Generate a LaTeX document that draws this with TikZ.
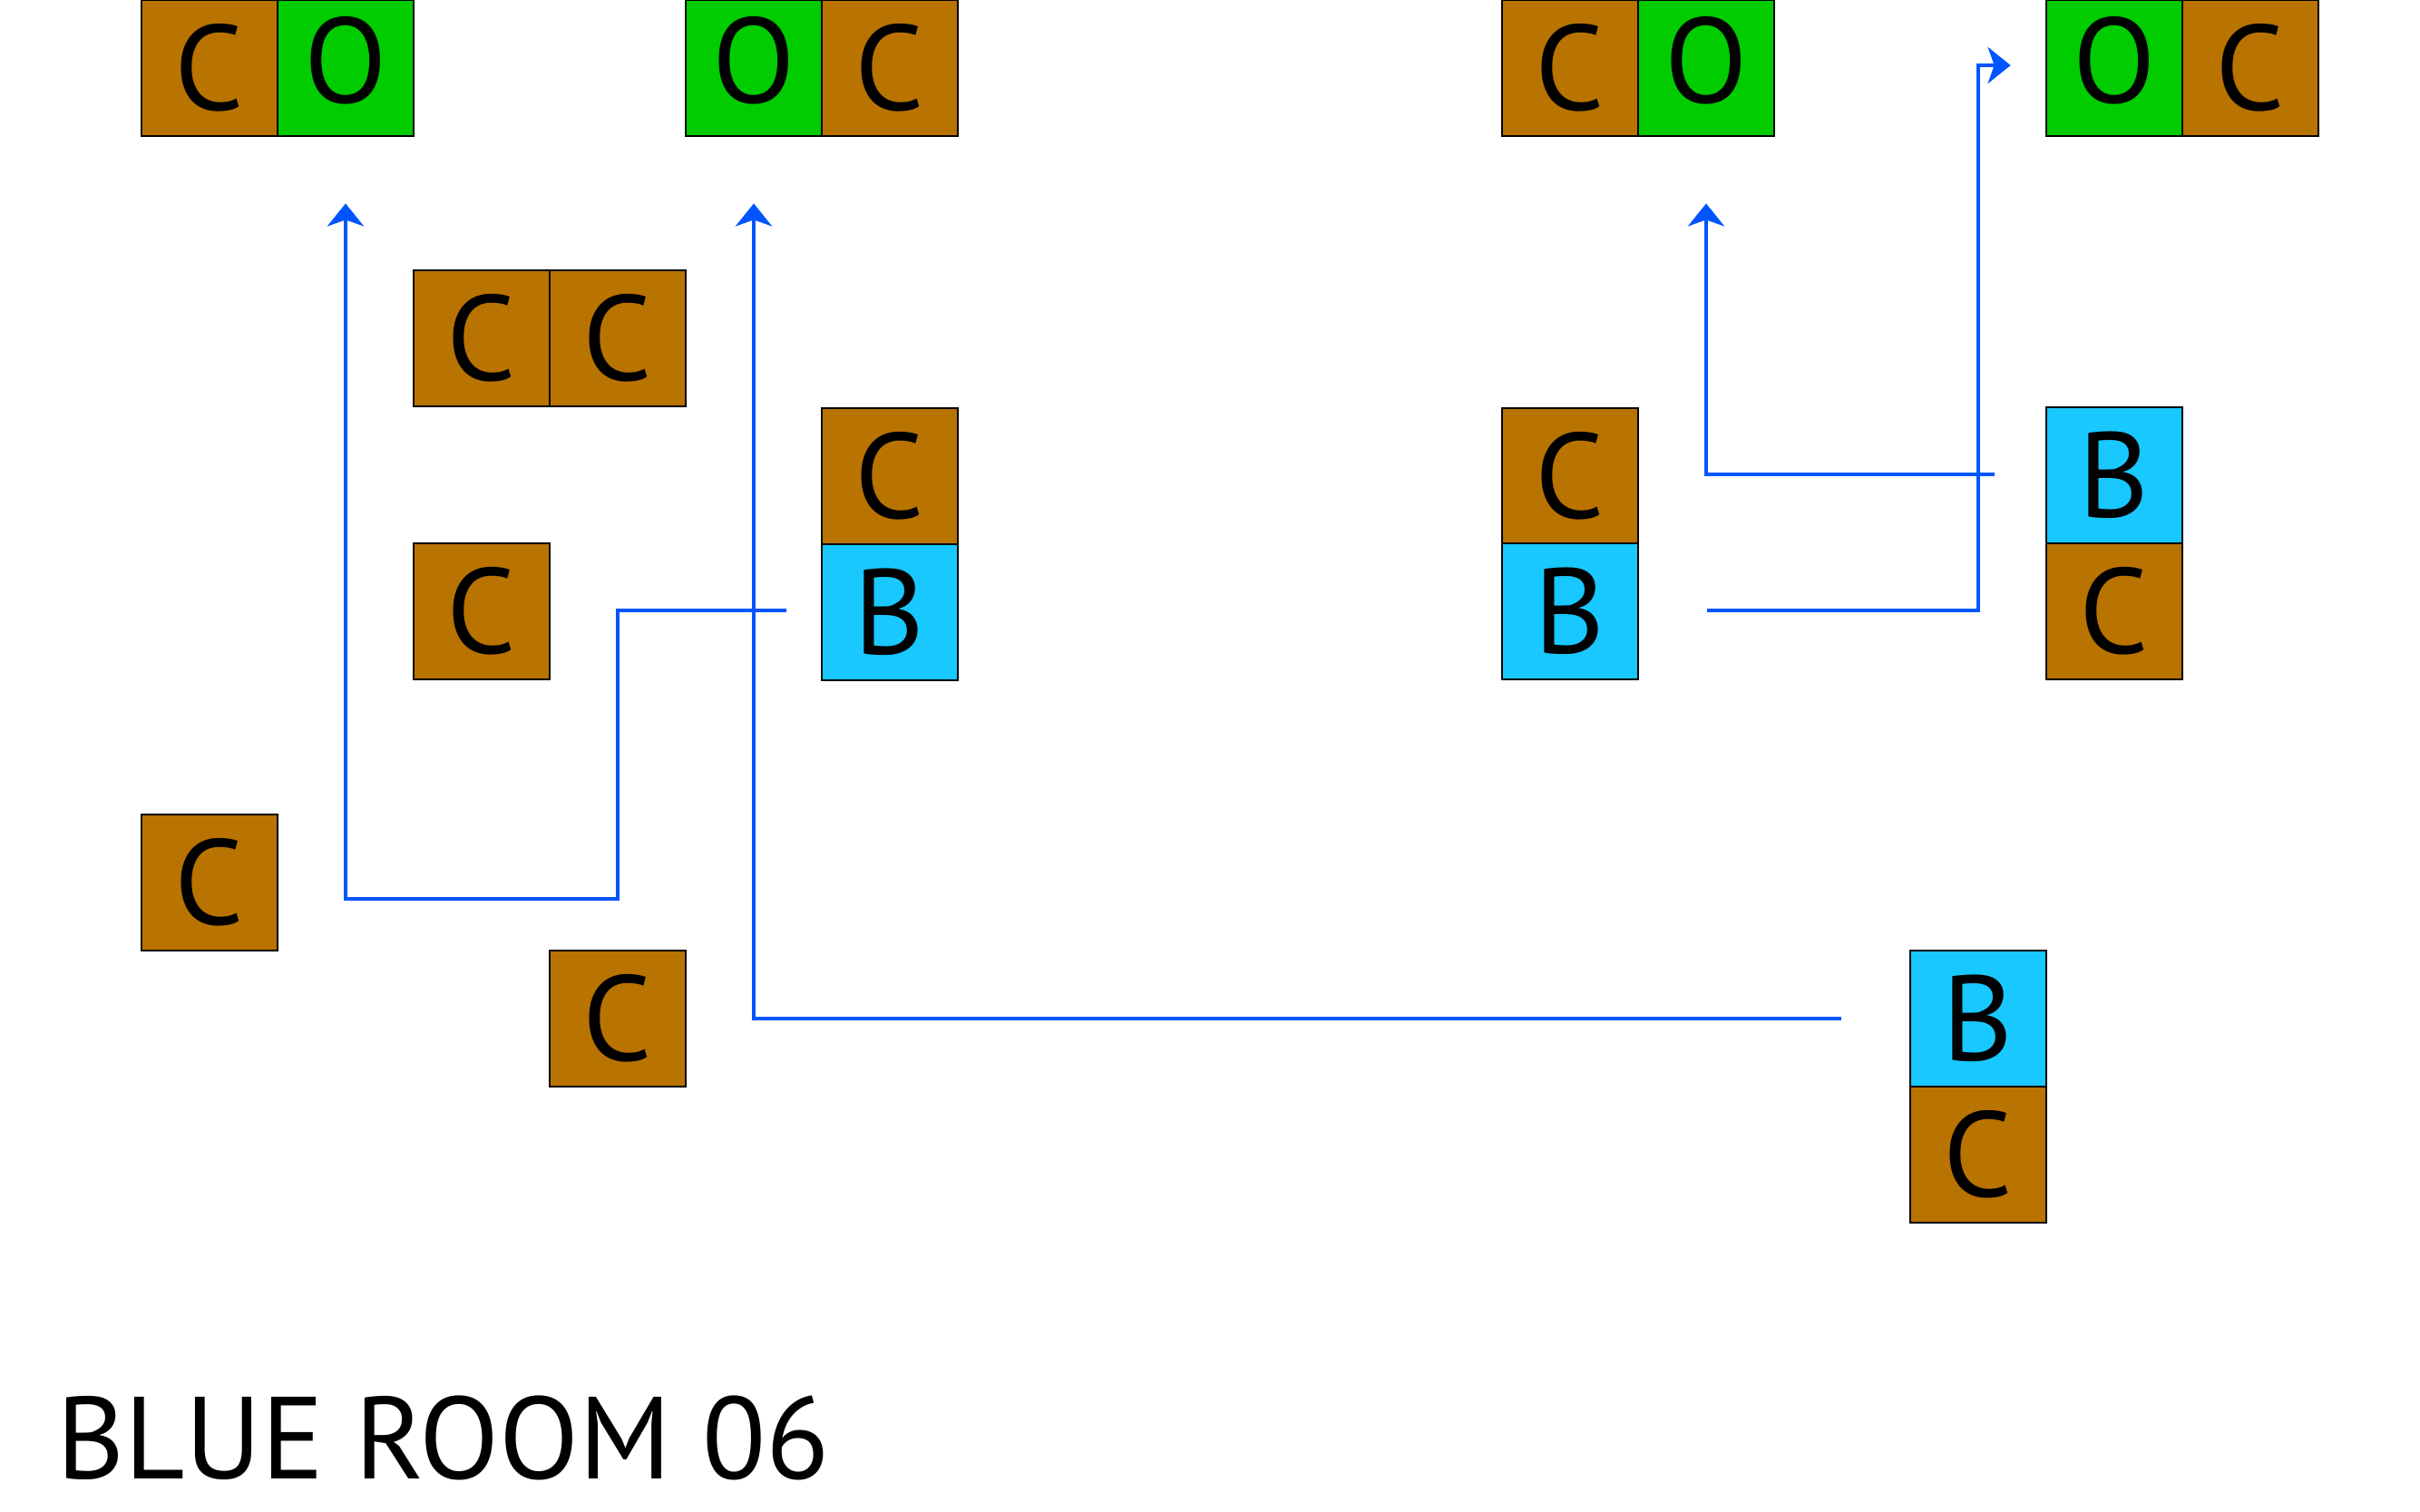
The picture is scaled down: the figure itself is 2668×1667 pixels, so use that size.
\documentclass[tikz,border=0pt]{standalone}
\usepackage{fontspec}
\setmainfont{PT Sans}
\usetikzlibrary{arrows.meta,calc}
\definecolor{cbrown}{RGB}{185,115,0}
\definecolor{cgreen}{RGB}{0,204,0}
\definecolor{ccyan}{RGB}{24,200,255}
\definecolor{lblue}{RGB}{0,85,255}
\tikzset{
  cell/.style={draw=black,line width=0.75pt,minimum size=1.5cm,inner sep=0pt,
    font=\fontsize{38}{40}\selectfont},
  cbox/.style={cell,fill=cbrown},
  obox/.style={cell,fill=cgreen},
  bbox/.style={cell,fill=ccyan},
  conn/.style={draw=lblue,line width=1.3pt,
    -{Stealth[length=0.25cm,width=0.40cm,inset=0.07cm]}}
}
\newcommand{\Ol}{\raisebox{0.18cm}{O}\hspace{0.14cm}}
\begin{document}
\begin{tikzpicture}[x=0.01cm,y=-0.01cm]
\useasboundingbox (0,0) rectangle (2668,1667);
% top row
\node[cbox] (t1c) at (231,75) {C};
\node[obox] (t1o) at (381,75) {\Ol};
\node[obox] (t2o) at (831,75) {\Ol};
\node[cbox] (t2c) at (981,75) {C};
\node[cbox] (t3c) at (1731,75) {C};
\node[obox] (t3o) at (1881,75) {\Ol};
\node[obox] (t4o) at (2331,75) {\Ol};
\node[cbox] (t4c) at (2481,75) {C};
% others
\node[cbox] (cc1) at (531,373) {C};
\node[cbox] (cc2) at (681,373) {C};
\node[cbox] (s1c) at (981,525) {C};
\node[bbox] (s1b) at (981,675) {B};
\node[cbox] (c24) at (531,674) {C};
\node[cbox] (c06) at (231,973) {C};
\node[cbox] (c37) at (681,1123) {C};
\node[cbox] (s2c) at (1731,525) {C};
\node[bbox] (s2b) at (1731,674) {B};
\node[bbox] (s3b) at (2331,524) {B};
\node[cbox] (s3c) at (2331,674) {C};
\node[bbox] (s4b) at (2181,1123) {B};
\node[cbox] (s4c) at (2181,1273) {C};
% title
\node[anchor=base west,inner sep=0pt,font=\fontsize{36.6}{40}\selectfont] (title) at (62,1630) {BLUE ROOM 06};
% connector coordinates
\coordinate (a1s) at ($(s1b.west)+(-38,-2)$);
\coordinate (k1) at (681,991);
\coordinate (a1e) at ($(t1o.south)+(0,73)$);
\coordinate (a2s) at ($(s4b.west)+(-75,0)$);
\coordinate (a2e) at ($(t2o.south)+(0,73)$);
\coordinate (a3s) at ($(s3b.west)+(-56,-1)$);
\coordinate (a3e) at ($(t3o.south)+(0,73)$);
\coordinate (a4s) at ($(s2b.east)+(75,-1)$);
\coordinate (k4) at (2181,72);
\coordinate (a4e) at ($(t4o.west)+(-38,-3)$);
% connectors
\draw[conn] (a1s) -| (k1) -| (a1e);
\draw[conn] (a2s) -| (a2e);
\draw[conn] (a3s) -| (a3e);
\draw[conn] (a4s) -| (k4) -- (a4e);
\end{tikzpicture}
\end{document}
